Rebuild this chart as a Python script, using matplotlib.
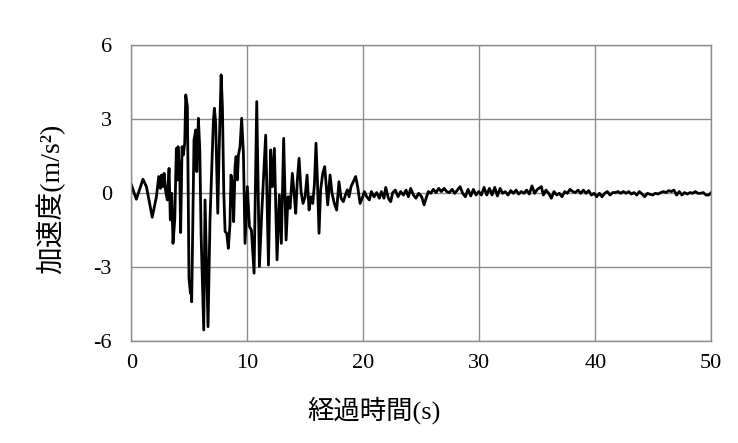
import numpy as np
import matplotlib.pyplot as plt

# acceleration record (time in s, accel in m/s^2)
t_main = [0.0, 0.43, 1.0, 1.3, 1.8, 2.16, 2.36, 2.5, 2.59, 2.73, 2.82, 2.96, 3.1, 3.25, 3.36,
          3.48, 3.59, 3.74, 3.88, 3.97, 4.02, 4.17, 4.25, 4.37, 4.48, 4.6, 4.69, 4.83, 4.97,
          5.09, 5.14, 5.2, 5.4, 5.55, 5.64, 5.78, 5.9, 6.01, 6.24, 6.35, 6.47, 6.61, 6.78,
          6.93, 7.07, 7.16, 7.27, 7.45, 7.59, 7.74, 7.85, 7.97, 8.08, 8.22, 8.36, 8.5, 8.59,
          8.71, 8.82, 8.94, 9.03, 9.14, 9.23, 9.37, 9.51, 9.66, 9.8, 10.0, 10.18, 10.35,
          10.58, 10.81, 11.04, 11.24, 11.58, 11.82, 12.01, 12.16, 12.33, 12.56, 12.76, 12.93,
          13.13, 13.34, 13.51, 13.68, 13.88, 14.03, 14.17, 14.31, 14.46, 14.63, 14.8, 14.98,
          15.15, 15.32, 15.49, 15.64, 15.78, 15.92, 16.04, 16.18, 16.32, 16.5, 16.67, 16.78,
          16.93, 17.13, 17.3, 17.5, 17.7, 17.9, 18.08, 18.28, 18.45, 18.62, 18.77, 18.94,
          19.14, 19.34, 19.51, 19.72, 19.95, 20.09, 20.29]
a_main = [0.34, -0.24, 0.57, 0.27, -0.97, -0.14, 0.68, 0.2, 0.74, 0.27, 0.81, 0.07, -0.27, 1.01, -1.08,
          0.0, -2.03, -1.08, 1.82, 0.54, 1.89, 0.81, -1.59, 1.89, 1.55, 2.03, 3.99, 3.51, -3.45,
          -4.05, -3.6, -4.4, 2.16, 2.57, 0.88, 3.04, 1.76, -1.62, -5.54, -0.27, -2.57, -5.41, -1.08,
          0.95, 2.91, 3.45, 2.84, -0.81, 2.16, 4.8, 3.51, 0.0, -1.55, -1.62, -2.23, -1.28, 0.74,
          0.41, -1.15, 1.08, 1.49, 0.54, 1.55, 1.89, 3.04, 1.62, -2.03, 0.27, -1.35, -1.49,
          -3.24, 3.72, -2.97, -0.81, 2.36, -2.91, 1.76, 0.27, 1.82, -2.7, -0.07, -2.03,
          2.23, -1.89, -0.14, -0.61, 0.81, 0.0, -0.81, 0.54, 1.42, 0.07, -0.41, -0.14,
          0.74, -0.68, -0.14, -0.41, 0.34, 2.03, 0.54, -1.62, 0.14, 0.81, 1.08, 0.41,
          -0.47, 0.74, 0.0, -0.41, -0.68, 0.47, -0.2, -0.34, -0.07, 0.14, -0.14, 0.27,
          0.47, 0.68, 0.27, -0.41, -0.14, 0.07, -0.14]

t_tail1 = [20.52, 20.69, 20.92, 21.15, 21.38, 21.56, 21.78, 21.93, 22.16, 22.36, 22.53, 22.76,
           22.99, 23.22, 23.46, 23.68, 23.88, 24.08, 24.32, 24.54, 24.77, 25.03, 25.24, 25.41,
           25.61, 25.81, 26.04, 26.27, 26.5, 26.73, 26.96, 27.19, 27.42, 27.65, 27.88, 28.11,
           28.34, 28.57, 28.8, 29.03, 29.26, 29.49, 29.72, 29.95, 30.18, 30.41, 30.64, 30.87,
           31.1, 31.33, 31.56, 31.79, 32.01, 32.24, 32.47, 32.71, 32.94, 33.17, 33.39, 33.62,
           33.85, 34.08, 34.31, 34.54, 34.77, 35.0]
a_tail1 = [-0.27, 0.07, -0.14, 0.03, -0.2, 0.07, -0.2, 0.24, -0.2, -0.34, 0.03, 0.13,
           -0.14, 0.07, -0.07, 0.13, -0.14, 0.2, -0.07, -0.2, 0.0, -0.14, -0.47, -0.2,
           0.07, 0.0, 0.16, 0.03, 0.2, 0.07, 0.2, 0.07, 0.03, 0.16, 0.0, 0.13,
           0.27, 0.0, -0.14, 0.16, -0.11, 0.16, -0.07, 0.07, -0.07, 0.24, -0.07, 0.2,
           -0.07, 0.24, -0.11, 0.2, 0.0, 0.07, -0.07, 0.11, 0.0, 0.13, -0.03, 0.07,
           0.0, 0.13, -0.03, 0.3, 0.0, 0.16]

t_tail2 = [35.35, 35.52, 35.75, 35.98, 36.21, 36.44, 36.67, 36.9, 37.13, 37.36, 37.59, 37.82,
           38.05, 38.28, 38.51, 38.74, 38.97, 39.2, 39.43, 39.66, 39.89, 40.12, 40.35, 40.58,
           40.81, 41.04, 41.27, 41.5, 41.73, 41.96, 42.19, 42.42, 42.65, 42.88, 43.11, 43.34,
           43.57, 43.8, 44.03, 44.26, 44.49, 44.72, 44.95, 45.17, 45.41, 45.64, 45.87, 46.1,
           46.33, 46.56, 46.78, 47.01, 47.24, 47.47, 47.7, 47.93, 48.16, 48.39, 48.62, 48.85,
           49.08, 49.31, 49.54, 49.77, 50.0]
a_tail2 = [0.27, -0.07, 0.13, 0.0, -0.2, 0.07, -0.07, 0.0, -0.14, 0.07, 0.0, 0.16,
           0.07, 0.03, 0.13, 0.0, 0.13, 0.0, 0.11, -0.07, 0.0, -0.14, 0.0, -0.14,
           0.0, 0.07, -0.07, 0.03, 0.03, 0.07, 0.0, 0.07, 0.0, 0.07, -0.03, 0.03,
           -0.07, 0.07, -0.03, -0.14, 0.0, -0.04, -0.07, 0.0, -0.03, 0.03, 0.07, 0.03,
           0.11, 0.07, 0.13, -0.07, 0.07, -0.07, 0.03, -0.03, 0.03, 0.0, 0.07, 0.0,
           0.0, 0.03, -0.07, -0.07, 0.03]

x_ticks = [0, 10, 20, 30, 40, 50]
y_ticks = [-6, -3, 0, 3, 6]

t = np.array(t_main + t_tail1 + t_tail2)
acc = np.array(a_main + a_tail1 + a_tail2)

plt.rcParams['axes.unicode_minus'] = False
serif = 'Liberation Serif'
label_fonts = ['Liberation Serif', 'Noto Sans CJK JP']

fig = plt.figure(figsize=(7.38, 4.43), dpi=100)
ax = fig.add_axes([0.178, 0.2296, 0.7858, 0.6681])

ax.plot(t, acc, color='black', linewidth=2.0)

ax.set_xlim(0, 50)
ax.set_ylim(-6, 6)
ax.set_xticks(x_ticks)
ax.set_yticks(y_ticks)
ax.grid(True, color='#8c8c8c', linewidth=1.0)
ax.set_axisbelow(True)
for sp in ax.spines.values():
    sp.set_color('#8c8c8c')
    sp.set_linewidth(1.0)
ax.tick_params(length=0, labelsize=16)
ax.tick_params(axis='y', pad=14)
ax.tick_params(axis='x', pad=9)
for lab in ax.get_xticklabels() + ax.get_yticklabels():
    lab.set_fontfamily(serif)

fig.text(374 / 738, 1 - 410 / 443, '経過時間(s)', family=label_fonts, fontsize=19,
         ha='center', va='center')
fig.text(51 / 738, 1 - 199 / 443, '加速度(m/s²)', family=label_fonts, fontsize=20,
         ha='center', va='center', rotation=90)

fig.savefig('out.png', dpi=100)
